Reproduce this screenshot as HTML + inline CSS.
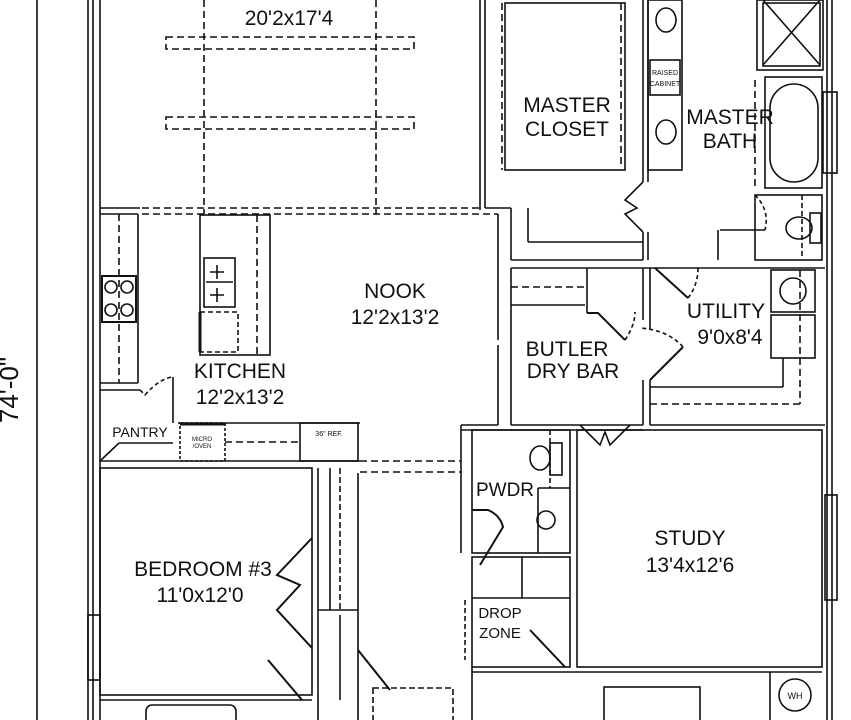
<!DOCTYPE html>
<html><head><meta charset="utf-8"><style>
html,body{margin:0;padding:0;background:#fff;width:851px;height:720px;overflow:hidden}
svg{display:block}
text{font-family:"Liberation Sans",sans-serif;fill:#111;text-anchor:middle}
</style></head><body>
<svg width="851" height="720" viewBox="0 0 851 720" xmlns="http://www.w3.org/2000/svg">
<g stroke="#111" stroke-width="1.6" fill="none">
<!-- dimension line -->
<line x1="37" y1="0" x2="37" y2="720"/>
<!-- outer left walls -->
<line x1="88" y1="0" x2="88" y2="720"/>
<line x1="93" y1="0" x2="93" y2="720"/>
<line x1="100" y1="0" x2="100" y2="720"/>
<!-- great room -->
<line x1="100" y1="208" x2="140" y2="208"/>
<g stroke-dasharray="7,4">
<line x1="142" y1="208" x2="480" y2="208"/>
<line x1="142" y1="214" x2="498" y2="214"/>
<line x1="204" y1="0" x2="204" y2="214"/>
<line x1="376" y1="0" x2="376" y2="214"/>
<rect x="166" y="37" width="248" height="12"/>
<rect x="166" y="117" width="248" height="12"/>
</g>
<line x1="480" y1="0" x2="480" y2="210"/>
<line x1="485" y1="0" x2="485" y2="208"/>
<!-- kitchen left counter -->
<line x1="100" y1="214" x2="138" y2="214"/>
<line x1="138" y1="214" x2="138" y2="383"/>
<line x1="100" y1="383" x2="138" y2="383"/>
<line x1="100" y1="390" x2="140" y2="390"/>
<line x1="119" y1="214" x2="119" y2="383" stroke-dasharray="7,4"/>
<rect x="102" y="276" width="34" height="46" stroke-width="2"/>
<circle cx="111" cy="287" r="6"/><circle cx="127" cy="287" r="6"/>
<circle cx="111" cy="310" r="6"/><circle cx="127" cy="310" r="6"/>
<!-- island -->
<rect x="200" y="215" width="70" height="140"/>
<line x1="257" y1="215" x2="257" y2="355" stroke-dasharray="7,4"/>
<rect x="204" y="258" width="31" height="49"/>
<line x1="206" y1="282" x2="233" y2="282"/>
<path d="M217 265v14M210 272h14M217 288v14M210 295h14"/>
<rect x="200" y="312" width="38" height="40" stroke-dasharray="5,3"/>
<line x1="200" y1="312" x2="200" y2="352" stroke-width="3"/>
<!-- pantry -->
<path d="M140 390 L145 395 Q160 378 173 377"  stroke-dasharray="4,3"/>
<line x1="173" y1="377" x2="173" y2="423"/>
<line x1="100" y1="461" x2="360" y2="461"/>
<line x1="119" y1="443" x2="173" y2="443"/>
<line x1="100" y1="461" x2="119" y2="443"/>
<line x1="178" y1="423" x2="360" y2="423"/>
<rect x="180" y="423" width="45" height="38" stroke-dasharray="3,2"/>
<line x1="180" y1="424" x2="225" y2="424" stroke-width="3"/>
<line x1="225" y1="442" x2="300" y2="442" stroke-dasharray="7,4"/>
<rect x="300" y="423" width="58" height="38"/>
<!-- nook right wall -->
<line x1="498" y1="214" x2="498" y2="340"/>
<line x1="498" y1="345" x2="498" y2="425"/>
<line x1="461" y1="425" x2="498" y2="425"/>
<line x1="461" y1="425" x2="461" y2="553"/>
<!-- hall dashed -->
<g stroke-dasharray="7,4"><line x1="360" y1="461" x2="461" y2="461"/><line x1="360" y1="472" x2="461" y2="472"/></g>
<!-- master closet -->
<line x1="502" y1="3" x2="502" y2="170" stroke-dasharray="7,4"/>
<rect x="505" y="3" width="120" height="167"/>
<line x1="621" y1="3" x2="621" y2="168" stroke-dasharray="7,4"/>
<line x1="643" y1="0" x2="643" y2="182"/>
<line x1="648" y1="0" x2="648" y2="182"/>
<line x1="485" y1="208" x2="511" y2="208"/>
<line x1="511" y1="208" x2="511" y2="260"/>
<line x1="528" y1="208" x2="528" y2="242"/>
<line x1="528" y1="242" x2="643" y2="242"/>
<line x1="511" y1="260" x2="643" y2="260"/>
<line x1="643" y1="232" x2="643" y2="260"/>
<line x1="648" y1="232" x2="648" y2="260"/>
<path d="M643 182 L625 200 L637 208 L625 214 L643 232"/>
<!-- vanity -->
<rect x="648" y="0" width="34" height="170"/>
<rect x="650" y="60" width="30" height="35"/>
<ellipse cx="666" cy="20" rx="10" ry="12"/><ellipse cx="666" cy="132" rx="10" ry="12"/>
<!-- shower -->
<rect x="757" y="0" width="66" height="70"/>
<path d="M763 0 L820 65 M820 0 L763 65"/>
<rect x="763" y="3" width="57" height="63"/>
<!-- tub -->
<rect x="765" y="77" width="57" height="111"/>
<rect x="770" y="84" width="48" height="98" rx="24"/>
<line x1="755" y1="80" x2="755" y2="190" stroke-dasharray="7,4"/>
<!-- outer right wall -->
<line x1="827" y1="0" x2="827" y2="720"/>
<line x1="832" y1="0" x2="832" y2="720"/>
<rect x="823" y="92" width="14" height="81"/>
<rect x="825" y="495" width="12" height="105"/>
<!-- toilet room -->
<rect x="755" y="195" width="67" height="65"/>
<path d="M755 195 Q770 210 765 230"  stroke-dasharray="4,3"/>
<line x1="720" y1="230" x2="765" y2="230"/>
<line x1="718" y1="230" x2="718" y2="260"/>
<ellipse cx="799" cy="228" rx="13" ry="11"/>
<rect x="810" y="213" width="11" height="30"/>
<line x1="802" y1="195" x2="802" y2="258" stroke-dasharray="5,3"/>
<!-- utility -->
<line x1="511" y1="268" x2="825" y2="268"/>
<line x1="650" y1="268" x2="650" y2="330"/>
<path d="M655 268 L688 298" stroke-width="2"/>
<path d="M688 298 Q698 285 698 268" stroke-dasharray="4,3"/>
<rect x="771" y="270" width="44" height="42"/><circle cx="793" cy="291" r="13"/>
<rect x="771" y="315" width="44" height="43"/>
<line x1="650" y1="387" x2="783" y2="387"/>
<line x1="783" y1="358" x2="783" y2="387"/>
<line x1="650" y1="404" x2="800" y2="404" stroke-dasharray="7,4"/>
<line x1="800" y1="270" x2="800" y2="404" stroke-dasharray="7,4"/>
<line x1="650" y1="380" x2="650" y2="425"/>
<path d="M650 380 L683 347" stroke-width="2"/>
<path d="M683 347 Q668 330 640 328" stroke-dasharray="4,3"/>
<!-- butler -->
<line x1="511" y1="268" x2="511" y2="425"/>
<line x1="511" y1="287" x2="585" y2="287" stroke-dasharray="7,4"/>
<line x1="511" y1="305" x2="585" y2="305"/>
<line x1="587" y1="268" x2="587" y2="313"/>
<line x1="643" y1="268" x2="643" y2="320"/>
<path d="M587 313 L598 313 L625 340" stroke-width="2"/>
<path d="M625 340 Q635 325 635 312" stroke-dasharray="4,3"/>
<line x1="643" y1="380" x2="643" y2="425"/>
<!-- bottom hall walls y425 -->
<line x1="461" y1="430" x2="643" y2="430"/>
<line x1="650" y1="425" x2="825" y2="425"/>
<line x1="511" y1="425" x2="643" y2="425"/>
<path d="M580 425 L600 445 L605 432 L610 445 L630 425"/>
<!-- pwdr -->
<rect x="472" y="430" width="98" height="123"/>
<line x1="550" y1="430" x2="550" y2="488" stroke-dasharray="5,3"/>
<rect x="550" y="443" width="12" height="32"/>
<ellipse cx="540" cy="458" rx="10" ry="12"/>
<line x1="538" y1="488" x2="570" y2="488"/>
<line x1="538" y1="488" x2="538" y2="553"/>
<circle cx="546" cy="520" r="9"/>
<path d="M472 510 L488 510 Q500 515 503 527 L480 565" stroke-width="2"/>
<!-- drop zone -->
<rect x="472" y="557" width="98" height="110"/>
<line x1="472" y1="598" x2="570" y2="598"/>
<line x1="522" y1="557" x2="522" y2="598"/>
<line x1="465" y1="600" x2="465" y2="660" stroke-dasharray="5,3"/>
<path d="M530 630 L565 667" stroke-width="2"/>
<!-- study -->
<rect x="577" y="430" width="245" height="237"/>
<line x1="472" y1="672" x2="822" y2="672"/>
<line x1="472" y1="667" x2="472" y2="720"/>
<rect x="604" y="687" width="96" height="40"/>
<line x1="770" y1="672" x2="770" y2="720"/>
<circle cx="795" cy="695" r="16"/>
<!-- bedroom 3 -->
<rect x="100" y="468" width="212" height="227"/>
<line x1="318" y1="468" x2="318" y2="720"/>
<line x1="340" y1="468" x2="340" y2="610" stroke-dasharray="6,3"/>
<line x1="330" y1="468" x2="330" y2="610"/>
<line x1="358" y1="473" x2="358" y2="720"/>
<path d="M312 538 L277 575 L300 585 L277 610 L312 648" stroke-width="2"/>
<path d="M358 650 L390 690"  stroke-width="2"/>
<path d="M268 660 L302 700"  stroke-width="2"/>
<line x1="318" y1="610" x2="358" y2="610"/>
<line x1="340" y1="615" x2="340" y2="700"/>
<rect x="88" y="615" width="12" height="65"/>
<line x1="100" y1="700" x2="312" y2="700"/>
<rect x="146" y="705" width="90" height="20" rx="6"/>
<rect x="373" y="688" width="80" height="40" stroke-dasharray="6,3"/>
</g>
<g font-size="21">
<text x="289" y="25">20'2x17'4</text>
<text x="395" y="298">NOOK</text>
<text x="395" y="324">12'2x13'2</text>
<text x="240" y="378">KITCHEN</text>
<text x="240" y="404">12'2x13'2</text>
<text x="567" y="112">MASTER</text>
<text x="567" y="136">CLOSET</text>
<text x="730" y="124">MASTER</text>
<text x="730" y="148">BATH</text>
<text x="726" y="318">UTILITY</text>
<text x="730" y="344">9'0x8'4</text>
<text x="567" y="356">BUTLER</text>
<text x="573" y="378">DRY BAR</text>
<text x="505" y="496" font-size="19">PWDR</text>
<text x="690" y="545">STUDY</text>
<text x="690" y="572">13'4x12'6</text>
<text x="203" y="576">BEDROOM #3</text>
<text x="200" y="602">11'0x12'0</text>
</g>
<text x="500" y="618" font-size="15">DROP</text>
<text x="500" y="638" font-size="15">ZONE</text>
<text x="140" y="437" font-size="14">PANTRY</text>
<text x="665" y="75" font-size="7">RAISED</text>
<text x="665" y="86" font-size="7">CABINET</text>
<text x="329" y="436" font-size="7">36" REF.</text>
<text x="202" y="441" font-size="6">MICRO</text>
<text x="202" y="448" font-size="6">/OVEN</text>
<text x="795" y="699" font-size="9">WH</text>
<text x="18" y="390" font-size="26" transform="rotate(-90 18 390)">74'-0"</text>
</svg>
</body></html>
